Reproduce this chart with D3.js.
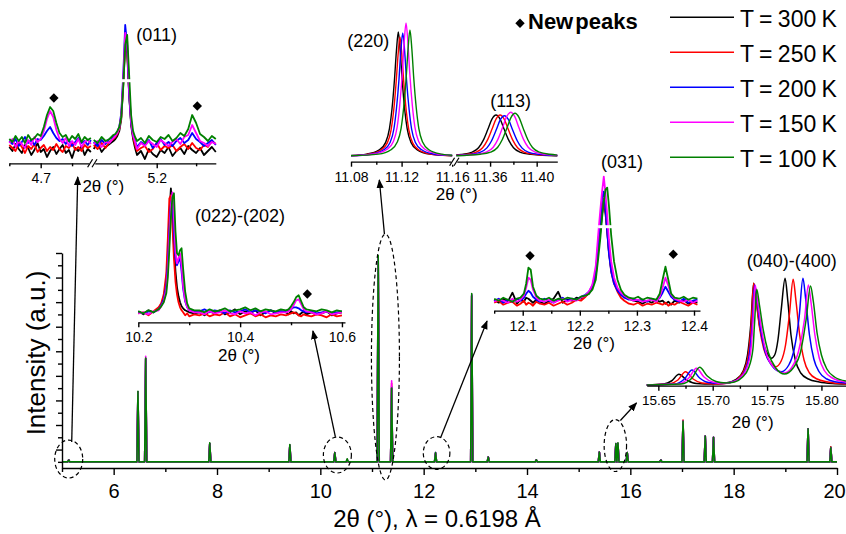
<!DOCTYPE html>
<html><head><meta charset="utf-8">
<script src="https://cdn.jsdelivr.net/npm/d3@7"></script>
<style>
body{margin:0;background:#fff;}
svg{display:block;}
</style></head><body>
<svg id="chart" width="846" height="534"></svg>
<script>
// ---------------- DATA ----------------
const temps = ["T = 300 K","T = 250 K","T = 200 K","T = 150 K","T = 100 K"];
const colors = ["#000000","#ff0000","#0000ff","#ff00ff","#008000"];

// main pattern: peak positions (2θ) and heights (a.u.) per temperature
const mainPeakPos = [5.13,6.47,6.62,7.86,9.41,10.28,10.52,11.12,11.38,12.23,12.93,13.25,14.18,15.40,15.72,15.76,15.94,16.59,17.02,17.45,17.61,19.44,19.88];
const main300 = [0.15,5.7,8.4,1.5,1.35,0.75,0.05,16.5,6.0,0.7,13.5,0.4,0.17,0.8,1.45,1.5,0.75,0.15,3.3,2.1,2.0,2.7,1.2];
const main250 = [0.15,5.7,8.4,1.5,1.35,0.75,0.05,16.5,6.4,0.7,13.5,0.4,0.17,0.8,1.45,1.5,0.75,0.15,3.4,2.1,2.0,2.7,1.2];
const main200 = [0.15,5.7,8.4,1.5,1.35,0.75,0.1,16.6,6.1,0.75,13.6,0.4,0.17,0.8,1.5,1.5,0.75,0.15,3.3,2.1,2.0,2.7,1.15];
const main150 = [0.15,5.7,8.6,1.5,1.35,0.75,0.2,16.7,6.6,0.75,13.6,0.4,0.17,0.8,1.5,1.5,0.75,0.15,3.3,2.1,2.0,2.7,1.15];
const main100 = [0.15,5.75,8.45,1.55,1.4,0.75,0.25,16.8,6.0,0.75,13.7,0.4,0.17,0.8,1.5,1.55,0.75,0.15,3.3,2.1,2.0,2.7,1.15];
const mainXTicks = [6,8,10,12,14,16,18,20];
const mainXMinor = [5,7,9,11,13,15,17,19];
const mainYMajor = [1,3,5,7,9,11,13,15,17];
const mainYMinor = [0,2,4,6,8,10,12,14,16];

// inset (011): broken x axis, two grids
const ins011GridL = [4.650,4.655,4.660,4.665,4.670,4.675,4.680,4.685,4.690,4.695,4.700,4.705,4.710,4.715,4.720,4.725,4.730,4.735,4.740,4.745,4.750,4.755,4.760,4.765,4.770,4.775,4.780];
const ins011L300 = [-2,-6,1,-4,-8,0,-3,-10,-5,2,-7,-4,-12,-6,-2,-9,-4,0,-8,-5,-13,-3,-6,-1,-10,-4,-7];
const ins011L250 = [0,-3,-6,2,-2,-8,-1,-4,1,-7,-3,0,-6,-2,-5,1,-4,-7,-1,-3,2,-5,-2,-6,0,-3,-1];
const ins011L200 = [4,1,6,-1,3,8,2,5,0,6,5,9,14,18,12,7,4,6,1,5,-1,3,7,2,4,0,5];
const ins011L150 = [2,6,-2,4,1,-3,5,0,8,3,6,14,26,34,28,15,6,2,7,-1,4,0,6,-2,3,5,1];
const ins011L100 = [6,3,9,4,8,2,10,5,7,11,9,18,30,38,34,22,12,8,10,4,9,6,11,3,8,5,7];
const ins011GridR = [5.120,5.125,5.130,5.135,5.140,5.145,5.1475,5.150,5.1525,5.155,5.1575,5.160,5.1625,5.165,5.1675,5.170,5.1725,5.175,5.180,5.185,5.190,5.195,5.200,5.205,5.210,5.215,5.220,5.225,5.230,5.235,5.240,5.245,5.250,5.255,5.260,5.265,5.270,5.275];
const ins011R300 = [-4,2,-7,-2,1,4,6,9,14,26,60,100,92,50,20,6,-3,-10,-6,-14,-4,-9,-12,-5,-8,-2,-11,-6,-3,-9,-1,-5,-8,-3,-10,-6,-2,-7];
const ins011R250 = [0,-4,2,-3,3,6,8,11,16,28,62,104,95,52,22,8,0,-6,-3,-1,-7,-4,2,-5,-1,-3,0,-6,-2,1,-4,2,-3,-5,0,-2,4,1];
const ins011R200 = [3,-1,5,1,6,8,10,13,18,32,70,120,100,50,22,9,4,-2,3,0,5,-3,2,6,0,3,-1,4,7,2,5,12,6,3,-1,2,5,0];
const ins011R150 = [1,4,-2,3,2,7,9,12,17,30,66,112,104,55,24,10,3,-4,2,-1,4,1,-2,5,2,-1,3,6,1,8,10,20,12,4,2,-1,3,1];
const ins011R100 = [5,2,8,4,6,10,11,14,18,28,58,100,110,70,30,14,8,4,7,2,9,5,3,8,6,10,4,7,12,9,16,30,22,11,8,4,9,6];
const ins011TicksL = [4.7], ins011MinorL = [4.65,4.75];
const ins011TicksR = [5.2], ins011MinorR = [5.15,5.25];
const ins011Diamonds = [["L",4.721,47],["R",5.2515,39]];

// inset (220) / (113): [2θ, intensity] pairs
const ins220_300 = [[11.080,0.5],[11.0924,1.9],[11.1024,6.2],[11.1074,13.6],[11.1104,27.3],[11.1124,47],[11.1144,77],[11.1159,105],[11.1174,124],[11.1189,105],[11.1204,77],[11.1224,47],[11.1244,27.3],[11.1274,13.6],[11.1324,6.2],[11.1424,1.9],[11.160,0.3]];
const ins220_250 = [[11.080,0.4],[11.0937,1.8],[11.1037,6],[11.1087,13.1],[11.1117,26.2],[11.1137,45],[11.1157,74],[11.1172,101],[11.1187,119],[11.1202,101],[11.1217,74],[11.1237,45],[11.1257,26.2],[11.1287,13.1],[11.1337,6],[11.1437,1.8],[11.160,0.4]];
const ins220_200 = [[11.080,0.3],[11.0959,1.8],[11.1059,6.2],[11.1109,13.5],[11.1139,27],[11.1159,47],[11.1179,76],[11.1194,105],[11.1209,123],[11.1224,105],[11.1239,76],[11.1259,47],[11.1279,27],[11.1309,13.5],[11.1359,6.2],[11.1459,1.8],[11.160,0.5]];
const ins220_150 = [[11.080,0.3],[11.0985,2],[11.1085,6.7],[11.1135,14.6],[11.1165,29],[11.1185,50.5],[11.1205,82],[11.1220,113],[11.1235,133],[11.1250,113],[11.1265,82],[11.1285,50.5],[11.1305,29],[11.1335,14.6],[11.1385,6.7],[11.1485,2],[11.160,0.6]];
const ins220_100 = [[11.080,0.3],[11.1016,1.9],[11.1116,6.3],[11.1166,13.9],[11.1196,27.7],[11.1216,48],[11.1236,78],[11.1251,107],[11.1266,126],[11.1281,107],[11.1296,78],[11.1316,48],[11.1336,27.7],[11.1366,13.9],[11.1416,6.3],[11.1516,1.9],[11.160,0.8]];
const ins113_300 = [[11.331,1],[11.3351,1.6],[11.3441,3.7],[11.3501,8.2],[11.3541,15.6],[11.3581,26.7],[11.3616,36.9],[11.3651,41],[11.3686,36.9],[11.3721,26.7],[11.3761,15.6],[11.3801,8.2],[11.3861,3.7],[11.3951,1.6],[11.4051,0.6],[11.4177,0.3]];
const ins113_250 = [[11.331,0.7],[11.3386,1.6],[11.3476,3.7],[11.3536,8.2],[11.3576,15.6],[11.3616,26.7],[11.3651,36.9],[11.3686,41],[11.3721,36.9],[11.3756,26.7],[11.3796,15.6],[11.3836,8.2],[11.3896,3.7],[11.3986,1.6],[11.4086,0.6],[11.4177,0.4]];
const ins113_200 = [[11.331,0.5],[11.3423,1.6],[11.3513,3.6],[11.3573,8.1],[11.3613,15.3],[11.3653,26.2],[11.3688,36.3],[11.3723,40.3],[11.3758,36.3],[11.3793,26.2],[11.3833,15.3],[11.3873,8.1],[11.3933,3.6],[11.4023,1.6],[11.4123,0.6],[11.4177,0.5]];
const ins113_150 = [[11.331,0.4],[11.3477,1.7],[11.3567,3.9],[11.3627,8.7],[11.3667,16.6],[11.3707,28.4],[11.3742,39.3],[11.3777,43.7],[11.3812,39.3],[11.3847,28.4],[11.3887,16.6],[11.3927,8.7],[11.3987,3.9],[11.4077,1.7],[11.4177,0.7]];
const ins113_100 = [[11.331,0.3],[11.3514,1.7],[11.3604,3.8],[11.3664,8.5],[11.3704,16.2],[11.3744,27.8],[11.3779,38.4],[11.3814,42.7],[11.3849,38.4],[11.3884,27.8],[11.3924,16.2],[11.3964,8.5],[11.4024,3.8],[11.4114,1.7],[11.4177,0.9]];
const ins220TicksL = [11.08,11.12,11.16], ins220MinorL = [11.10,11.14];
const ins220TicksR = [11.36,11.40], ins220MinorR = [11.34,11.38];

// inset (022)-(202)
const ins022Grid = [10.200,10.210,10.220,10.230,10.240,10.245,10.250,10.255,10.258,10.261,10.264,10.267,10.270,10.273,10.276,10.279,10.282,10.285,10.288,10.292,10.296,10.300,10.310,
 10.320,10.330,10.340,10.350,10.360,10.370,10.380,10.390,10.400,10.410,10.420,10.430,10.440,10.450,10.460,10.470,10.480,
 10.490,10.495,10.500,10.505,10.510,10.515,10.520,10.525,10.530,
 10.540,10.550,10.560,10.570,10.580,10.590,10.600];
const ins022_300 = [2,-1,3,1,5,9,16,32,58,98,125,104,68,42,26,17,11,7,5,3,2,1,0, 1,-2,2,0,3,-1,1,4,-1,2,0,3,-2,1,3,0,2, 1,-1,2,0,1,-2,0,2,-1, 1,-1,0,2,-2,0,1];
const ins022_250 = [0,1,-2,2,6,10,19,40,75,115,118,88,55,32,19,11,6,3,1,-2,0,-3,-1, -2,0,-3,-1,-2,1,-3,-1,-4,-2,0,-3,-1,-4,-2,-3,-1, -2,-1,0,1,0,-2,-3,-1,-2, -3,-1,-2,-4,-1,-3,-2];
const ins022_200 = [1,0,2,1,4,8,14,28,50,85,110,114,80,55,48,52,56,42,25,12,6,3,2, 2,4,1,3,2,0,3,1,2,4,1,3,2,0,3,1,2, 2,3,4,6,6,5,3,2,1, 2,0,1,2,0,1,2];
const ins022_150 = [0,1,-1,2,3,7,12,24,44,78,108,121,95,62,50,55,60,48,28,13,6,3,1, 1,-1,2,0,1,3,0,-1,2,0,1,-2,1,2,-1,0,1, 1,2,4,8,13,14,9,4,2, 1,-1,0,2,-1,0,1];
const ins022_100 = [2,0,3,1,4,7,11,20,36,64,96,116,120,82,60,58,63,65,45,22,10,5,3, 3,1,4,2,3,5,2,3,4,6,3,5,2,4,3,2,4, 3,4,7,11,16,18,12,6,4, 3,2,4,3,1,3,2];
const ins022Ticks = [10.2,10.4,10.6], ins022Minor = [10.3,10.5];
const ins022Diamonds = [[10.532,19.3]];

// inset (031)
const ins031Grid = [12.050,12.058,12.066,12.074,12.082,12.090,12.096,12.102,12.106,12.110,
 12.114,12.118,12.124,12.130,12.138,12.146,12.154,12.162,12.170,12.178,
 12.186,12.194,12.202,12.210,12.216,12.222,12.228,12.232,12.236,12.239,
 12.242,12.245,12.248,12.251,12.255,12.260,12.266,12.272,12.278,12.286,
 12.294,12.302,12.310,12.318,12.326,12.334,12.340,12.345,12.350,12.355,
 12.360,12.366,12.374,12.382,12.390,12.398,12.406];
const ins031_300 = [2,-1,3,0,9,-2,2,0,4,3, 1,-1,2,0,-2,1,3,10,-1,2, 1,4,3,6,8,14,26,50,70,88, 100,88,70,50,32,20,12,7,5,3, 1,0,-2,1,-1,2,0,1,-2,0, -3,1,-1,2,-2,0,-1];
const ins031_250 = [-1,1,-3,-1,0,-4,-2,1,-3,-1, -2,-4,0,-2,-3,-1,-4,-2,0,-3, -1,2,1,5,9,15,28,55,76,92, 103,90,72,50,30,18,10,4,1,-2, -3,-1,-4,-2,-3,-1,-2,-3,-1,-4, -2,-3,0,-2,-4,-1,-3];
const ins031_200 = [1,3,-1,2,0,3,1,4,8,11, 9,5,2,0,3,1,-1,2,4,1, 3,2,5,7,10,16,30,58,82,104, 110,92,70,48,30,18,11,7,4,2, 3,1,2,0,3,1,4,9,15,10, 5,2,0,3,-1,1,2];
const ins031_150 = [0,2,1,-1,3,0,2,6,14,24, 22,12,4,1,0,2,-1,1,3,0, 2,1,4,6,10,17,36,66,92,110, 125,108,86,62,40,24,14,9,6,3, 1,2,0,1,2,0,5,14,24,16, 7,3,1,0,2,-1,1];
const ins031_100 = [3,1,4,2,0,3,4,8,18,34, 32,15,6,3,2,4,1,3,2,4, 3,2,5,6,8,12,22,42,64,84, 100,112,114,96,66,40,22,12,7,4, 3,5,2,4,3,2,8,22,35,22, 8,4,3,5,2,4,3];
const ins031Ticks = [12.1,12.2,12.3,12.4], ins031Minor = [12.05,12.15,12.25,12.35];
const ins031Diamonds = [[12.1128,46],[12.3637,47.4]];

// inset (040)-(400): [2θ, intensity] pairs
const ins040_300 = [[15.6393,0],[15.655,1],[15.662,4],[15.669,10.7],[15.676,5],[15.685,1.5],[15.700,1],[15.712,2],[15.722,6],[15.728,14],[15.732,30],[15.735,60],[15.7377,101.7],[15.740,85],[15.743,60],[15.747,40],[15.751,30],[15.7539,26.7],[15.757,30],[15.760,45],[15.763,75],[15.7666,106.7],[15.769,85],[15.772,50],[15.776,25],[15.781,12],[15.788,6],[15.798,3],[15.810,1.5],[15.8226,1]];
const ins040_250 = [[15.6393,0],[15.660,1],[15.668,5],[15.675,13.3],[15.682,6],[15.690,2],[15.705,1],[15.714,2],[15.723,6],[15.729,15],[15.733,32],[15.7355,62],[15.7377,101.7],[15.740,84],[15.743,58],[15.747,36],[15.752,24],[15.758,18.3],[15.763,24],[15.767,40],[15.7705,70],[15.774,105.7],[15.7765,85],[15.780,50],[15.784,25],[15.789,12],[15.796,6],[15.806,3],[15.8226,1]];
const ins040_200 = [[15.6393,0],[15.665,1],[15.674,6],[15.681,15],[15.688,7],[15.696,2.5],[15.708,1.5],[15.716,2.5],[15.724,6],[15.730,15],[15.734,33],[15.7365,62],[15.7385,100],[15.741,82],[15.744,56],[15.748,34],[15.754,20],[15.763,13.3],[15.770,20],[15.775,36],[15.7795,68],[15.783,106.7],[15.7855,86],[15.789,50],[15.793,26],[15.798,13],[15.805,6],[15.814,3],[15.8226,2]];
const ins040_150 = [[15.6393,0],[15.668,1],[15.678,7],[15.685,16.7],[15.692,8],[15.700,3],[15.710,1.5],[15.718,3],[15.725,7],[15.731,16],[15.735,34],[15.737,63],[15.739,100],[15.7415,82],[15.745,55],[15.749,33],[15.756,18],[15.766,12],[15.773,18],[15.779,34],[15.7845,66],[15.788,100],[15.7905,82],[15.794,50],[15.798,27],[15.803,14],[15.810,7],[15.8226,3]];
const ins040_100 = [[15.6393,0],[15.671,1],[15.681,7],[15.688,17.7],[15.695,9],[15.703,3.5],[15.712,2],[15.720,3],[15.727,7.5],[15.733,17],[15.737,36],[15.7385,62],[15.7405,95.7],[15.743,80],[15.7465,55],[15.751,33],[15.758,17],[15.766,11],[15.774,17],[15.781,34],[15.786,66],[15.790,99],[15.7925,84],[15.796,52],[15.800,30],[15.805,16],[15.812,8],[15.8226,4]];
const ins040Ticks = [15.65,15.70,15.75,15.80], ins040Minor = [15.675,15.725,15.775];

// dashed ellipses on the main pattern: [2θ, intensity]
const ellipseCenters = [[5.13,0.23],[10.33,0.56],[11.26,8.53],[12.25,0.72],[15.71,1.33]];

// ---------------- DRAWING ----------------
const FONT = '"Liberation Sans", Arial, Helvetica, sans-serif';
const svg = d3.select("#chart").attr("font-family", FONT);
svg.append("rect").attr("width",846).attr("height",534).attr("fill","#fff");
const defs = svg.append("defs");
defs.append("marker").attr("id","arr").attr("viewBox","0 0 10 10").attr("refX",9).attr("refY",5)
  .attr("markerWidth",9).attr("markerHeight",9).attr("markerUnits","userSpaceOnUse").attr("orient","auto")
  .append("path").attr("d","M0,1 L10,5 L0,9 z").attr("fill","#000");

function styleAxis(g, fs){
  g.select(".domain").attr("stroke","#000").attr("stroke-width",1.4);
  g.selectAll(".tick line").attr("stroke","#000").attr("stroke-width",1.4);
  g.selectAll(".tick text").attr("fill","#000").attr("font-size",fs).attr("font-family",FONT);
}

// main scales
const x = d3.scaleLinear().domain([5,20]).range([62,837]);
const y = d3.scaleLinear().domain([-0.5,17]).range([468,253]);

// main series
const mainSeries = [main300, main250, main200, main150, main100];
const mainLine = d3.line().x(d=>x(d[0])).y(d=>y(d[1]));
mainSeries.forEach((hs,i)=>{
  const pts = [[5,0]];
  mainPeakPos.forEach((p,j)=>{ pts.push([p-0.02,0],[p,hs[j]],[p+0.02,0]); });
  pts.push([20,0]);
  svg.append("path").datum(pts).attr("fill","none").attr("stroke",colors[i])
    .attr("stroke-width",1.6).attr("stroke-linejoin","round").attr("d",mainLine);
});

// main axes
const gx = svg.append("g").attr("transform","translate(0,468)")
  .call(d3.axisBottom(x).tickValues(mainXTicks).tickSize(7).tickSizeOuter(0).tickPadding(9).tickFormat(d3.format("d")));
styleAxis(gx, 20);
// keep the last label ("20") inside the page edge
gx.selectAll(".tick text").filter(d=>d===20).attr("dx",-3);
const gx2 = svg.append("g").attr("transform","translate(0,468)")
  .call(d3.axisBottom(x).tickValues(mainXMinor).tickSize(4).tickSizeOuter(0).tickFormat(()=>""));
gx2.select(".domain").remove(); styleAxis(gx2, 20);
const gy = svg.append("g").attr("transform","translate(62,0)")
  .call(d3.axisLeft(y).tickValues(mainYMajor).tickSize(6).tickSizeOuter(0).tickFormat(()=>""));
styleAxis(gy, 12);
const gy2 = svg.append("g").attr("transform","translate(62,0)")
  .call(d3.axisLeft(y).tickValues(mainYMinor).tickSize(4).tickSizeOuter(0).tickFormat(()=>""));
gy2.select(".domain").remove(); styleAxis(gy2, 12);

svg.append("text").attr("x",437).attr("y",527).attr("text-anchor","middle").attr("font-size",24)
  .text("2θ (°), λ = 0.6198 Å");
svg.append("text").attr("transform","translate(45,353) rotate(-90)").attr("text-anchor","middle").attr("font-size",26)
  .text("Intensity (a.u.)");

// ellipses
const ellipseR = [[14,19],[14,18],[14,123],[13.3,16.3],[11.2,26]];
ellipseCenters.forEach((c,i)=>{
  svg.append("ellipse").attr("cx",x(c[0])).attr("cy",y(c[1])).attr("rx",ellipseR[i][0]).attr("ry",ellipseR[i][1])
    .attr("fill","none").attr("stroke","#000").attr("stroke-width",1.2).attr("stroke-dasharray","4,3");
});

// helpers for insets
function insetAxis(xs, y0, majors, minors, fmt, fs){
  const g = svg.append("g").attr("transform",`translate(0,${y0})`)
    .call(d3.axisBottom(xs).tickValues(majors).tickSize(5).tickSizeOuter(0).tickPadding(5).tickFormat(fmt));
  styleAxis(g, fs);
  g.select(".domain").attr("stroke-width",1.3);
  const g2 = svg.append("g").attr("transform",`translate(0,${y0})`)
    .call(d3.axisBottom(xs).tickValues(minors).tickSize(3).tickSizeOuter(0).tickFormat(()=>""));
  g2.select(".domain").remove(); styleAxis(g2, fs);
}
function drawGrid(xs, ys, grid, series, w, curve){
  const line = d3.line().x(d=>xs(d[0])).y(d=>ys(d[1])).curve(curve||d3.curveLinear);
  series.forEach((vals,i)=>{
    svg.append("path").datum(grid.map((g,j)=>[g,vals[j]])).attr("fill","none").attr("stroke",colors[i])
      .attr("stroke-width",w).attr("stroke-linejoin","round").attr("d",line);
  });
}
function drawPairs(xs, ys, series, w){
  const line = d3.line().x(d=>xs(d[0])).y(d=>ys(d[1])).curve(d3.curveMonotoneX);
  series.forEach((pts,i)=>{
    svg.append("path").datum(pts).attr("fill","none").attr("stroke",colors[i])
      .attr("stroke-width",w).attr("stroke-linejoin","round").attr("d",line);
  });
}
const diamond = d3.symbol().type(d3.symbolSquare).size(44);
function drawDiamond(px, py){
  svg.append("path").attr("d",diamond()).attr("fill","#000").attr("transform",`translate(${px},${py}) rotate(45)`);
}
function label(txt, cx, by, fs, weight){
  return svg.append("text").attr("x",cx).attr("y",by).attr("text-anchor","middle").attr("font-size",fs)
    .attr("font-weight",weight||"normal").text(txt);
}
function breakMark(px, py){
  svg.append("rect").attr("x",px-3).attr("y",py-3).attr("width",6).attr("height",6).attr("fill","#fff");
  [-2.2,2.2].forEach(d=>{
    svg.append("line").attr("x1",px+d-2.5).attr("y1",py+4).attr("x2",px+d+2.5).attr("y2",py-4)
      .attr("stroke","#000").attr("stroke-width",1.2);
  });
}

// ---- inset (011)
const x011L = d3.scaleLinear().domain([4.65,4.78]).range([9.3,90.9]);
const x011R = d3.scaleLinear().domain([5.12,5.275]).range([93.7,215.8]);
const y011 = d3.scaleLinear().domain([0,100]).range([145,45]);
drawGrid(x011L, y011, ins011GridL, [ins011L300,ins011L250,ins011L200,ins011L150,ins011L100], 1.8);
drawGrid(x011R, y011, ins011GridR, [ins011R300,ins011R250,ins011R200,ins011R150,ins011R100], 1.8);
svg.append("rect").attr("x",x011R(5.155)).attr("y",y011(64.3)-1.5).attr("width",x011R(5.168)-x011R(5.155)).attr("height",3).attr("fill","#fff");
insetAxis(x011L, 163.3, ins011TicksL, ins011MinorL, d3.format(".1f"), 14);
insetAxis(x011R, 163.3, ins011TicksR, ins011MinorR, d3.format(".1f"), 14);
breakMark(92.3, 163.3);
ins011Diamonds.forEach(d=>drawDiamond((d[0]==="L"?x011L:x011R)(d[1]), y011(d[2])));
label("(011)", 156.7, 40.7, 18);
label("2θ (°)", 103.3, 192, 17);

// ---- inset (220)/(113)
const x220 = d3.scaleLinear().domain([11.08,11.16]).range([351,452.2]);
const x113 = d3.scaleLinear().domain([11.331,11.4177]).range([456.3,557.3]);
const y220 = d3.scaleLinear().domain([0,100]).range([156,56]);
drawPairs(x220, y220, [ins220_300,ins220_250,ins220_200,ins220_150,ins220_100], 1.4);
drawPairs(x113, y220, [ins113_300,ins113_250,ins113_200,ins113_150,ins113_100], 1.4);
insetAxis(x220, 161.7, ins220TicksL, ins220MinorL, d3.format(".2f"), 14);
insetAxis(x113, 161.7, ins220TicksR, ins220MinorR, d3.format(".2f"), 14);
breakMark(454.3, 161.7);
label("(220)", 368.3, 46.7, 18);
label("(113)", 510.7, 107.3, 18);
label("2θ (°)", 456.7, 200.4, 17);

// ---- inset (022)-(202)
const x022 = d3.scaleLinear().domain([10.2,10.606]).range([138.3,345]);
const y022 = d3.scaleLinear().domain([0,100]).range([313.3,213.3]);
drawGrid(x022, y022, ins022Grid, [ins022_300,ins022_250,ins022_200,ins022_150,ins022_100], 1.8);
insetAxis(x022, 322.3, ins022Ticks, ins022Minor, d3.format(".1f"), 14);
ins022Diamonds.forEach(d=>drawDiamond(x022(d[0]), y022(d[1])));
label("(022)-(202)", 240, 221.7, 18);
label("2θ (°)", 239, 361, 17);

// ---- inset (031)
const x031 = d3.scaleLinear().domain([12.0497,12.4105]).range([494,700]);
const y031 = d3.scaleLinear().domain([0,100]).range([301.7,201.7]);
drawGrid(x031, y031, ins031Grid, [ins031_300,ins031_250,ins031_200,ins031_150,ins031_100], 1.8);
svg.append("rect").attr("x",x031(12.232)).attr("y",y031(75)-1.5).attr("width",x031(12.257)-x031(12.232)).attr("height",3).attr("fill","#fff");
insetAxis(x031, 310.7, ins031Ticks, ins031Minor, d3.format(".1f"), 14);
ins031Diamonds.forEach(d=>drawDiamond(x031(d[0]), y031(d[1])));
label("(031)", 622, 168.3, 18);
label("2θ (°)", 594, 349.4, 17);

// ---- inset (040)-(400)
const x040 = d3.scaleLinear().domain([15.6393,15.8226]).range([646.7,846]);
const y040 = d3.scaleLinear().domain([0,100]).range([385,285]);
drawPairs(x040, y040, [ins040_300,ins040_250,ins040_200,ins040_150,ins040_100], 1.5);
insetAxis(x040, 385.7, ins040Ticks, ins040Minor, d3.format(".2f"), 13.5);
label("(040)-(400)", 791.7, 266.7, 18);
label("2θ (°)", 752.7, 428, 17);

// ---- arrows (from dashed ellipses to insets)
const arrows = [
  [[x(ellipseCenters[0][0])+3, y(ellipseCenters[0][1])-ellipseR[0][1]+2], [x011L(4.759), 177]],
  [[x(ellipseCenters[1][0])-2, y(ellipseCenters[1][1])-ellipseR[1][1]], [x022(10.543), 331]],
  [[x(ellipseCenters[2][0])-1, y(ellipseCenters[2][1])-ellipseR[2][1]], [x220(11.1024), 180]],
  [[x(ellipseCenters[3][0])+4, y(ellipseCenters[3][1])-ellipseR[3][1]+1], [x031(12.0375), 321]],
  [[x(ellipseCenters[4][0])+5, y(ellipseCenters[4][1])-ellipseR[4][1]+1], [x040(15.6299), 403]]
];
arrows.forEach(a=>{
  svg.append("line").attr("x1",a[0][0]).attr("y1",a[0][1]).attr("x2",a[1][0]).attr("y2",a[1][1])
    .attr("stroke","#000").attr("stroke-width",1.3).attr("marker-end","url(#arr)");
});

// ---- legend
drawDiamond(520, 23.3);
svg.append("text").attr("x",528).attr("y",29.3).attr("font-size",22).attr("font-weight","bold")
  .attr("word-spacing",-4).text("New peaks");
temps.forEach((t,i)=>{
  const ly = 17.3 + 35*i;
  svg.append("line").attr("x1",670).attr("x2",734).attr("y1",ly).attr("y2",ly)
    .attr("stroke",colors[i]).attr("stroke-width",1.6);
  svg.append("text").attr("x",740).attr("y",ly+10).attr("font-size",23).attr("word-spacing",-1).text(t);
});
</script></body></html>
